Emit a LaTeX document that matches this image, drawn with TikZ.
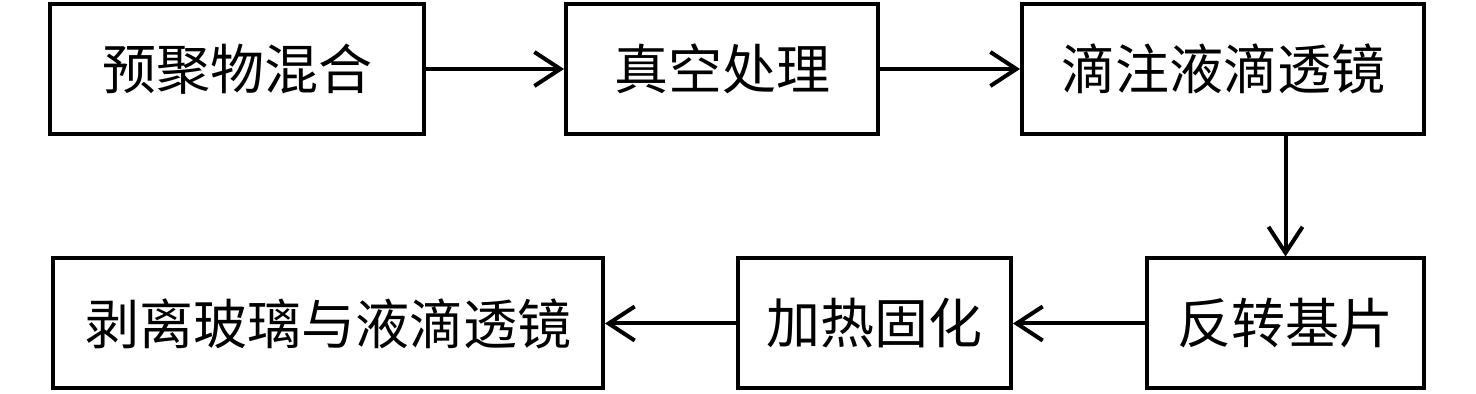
\documentclass[tikz,border=0pt]{standalone}
\usepackage{fontspec}
\newfontfamily\cjk{Noto Sans CJK SC}
\usetikzlibrary{arrows.meta, positioning}

\begin{document}
\begin{tikzpicture}[
  x=1pt, y=1pt,
  every node/.style={draw, line width=2pt, rectangle, inner sep=0pt, minimum height=65pt, font=\cjk\fontsize{27}{30}\selectfont},
  arr/.style={-{Straight Barb[length=13pt, width=17pt, line width=2pt]}, line width=2pt}
]
\useasboundingbox (0,0) rectangle (738,-197);
\node[minimum width=187pt] (mix)  at (118.5,-34.5)   {预聚物混合};
\node[minimum width=156pt] (vac)  at (361,-34.5)     {真空处理};
\node[minimum width=201pt] (drop) at (611.5,-34.5)   {滴注液滴透镜};
\node[minimum width=138.5pt] (flip) at (642.75,-161.75) {反转基片};
\node[minimum width=136.5pt] (cure) at (437.25,-161.75) {加热固化};
\node[minimum width=275pt] (peel) at (164,-161.75)   {剥离玻璃与液滴透镜};
\draw[arr] (mix) -- (vac);
\draw[arr] (vac) -- (drop);
\draw[arr] (flip.north |- drop.south) -- (flip);
\draw[arr] (flip) -- (cure);
\draw[arr] (cure) -- (peel);
\end{tikzpicture}
\end{document}
